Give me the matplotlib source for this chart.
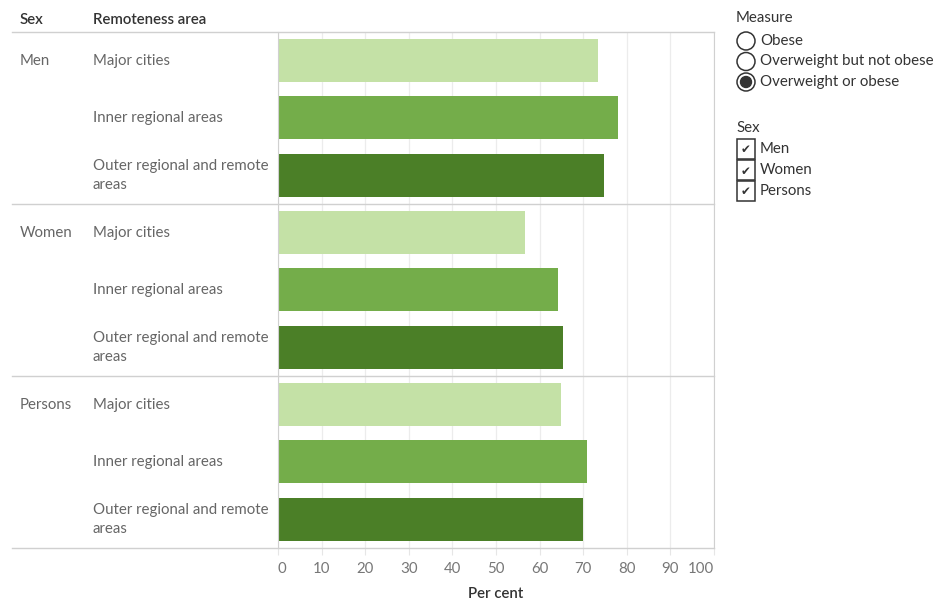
import numpy as np
from matplotlib import pyplot as plt
from matplotlib import patches

plt.rcParams['font.family'] = ['Lato', 'DejaVu Sans']

# Data (Overweight or obese, per cent)
sexes = ["Men", "Women", "Persons"]
areas = ["Major cities", "Inner regional areas", "Outer regional and remote\nareas"]
values = {
    "Men": [73.4, 77.9, 74.8],
    "Women": [56.7, 64.2, 65.3],
    "Persons": [65.0, 70.9, 70.0],
}
area_colours = ["#c4e1a6", "#74ad4a", "#4b7f27"]
xticks = [0, 10, 20, 30, 40, 50, 60, 70, 80, 90, 100]
measures = ["Obese", "Overweight but not obese", "Overweight or obese"]
selected_measure = "Overweight or obese"

W, H = 941, 602
fs = 10.8
fig = plt.figure(figsize=(W / 100, H / 100), dpi=100)

# Plot region in pixels
x0, x1, y0, y1 = 278, 714, 32, 548
ax = fig.add_axes([x0 / W, 1 - y1 / H, (x1 - x0) / W, (y1 - y0) / H])

# Bars
pos = 0
for s in sexes:
    for i, a in enumerate(areas):
        ax.barh(pos, values[s][i], height=0.75, color=area_colours[i], zorder=2)
        pos += 1
n_rows = pos
ax.set_ylim(n_rows - 0.5, -0.5)
ax.set_xlim(0, 100)
ax.set_yticks([])
ax.set_xticks(xticks)
ax.set_xticklabels([str(t) for t in xticks], fontsize=fs, color="#777777")
ax.tick_params(axis="x", length=5, color="#e6e6e6", pad=5)
labels = ax.get_xticklabels()
labels[0].set_ha("left")
labels[-1].set_ha("right")
for t in xticks:
    ax.axvline(t, color="#ececec", lw=0.9, zorder=0)
for side in ["top", "bottom", "left"]:
    ax.spines[side].set_visible(False)
ax.spines["right"].set_color("#d0d0d0")
ax.spines["left"].set_visible(True)
ax.spines["left"].set_color("#d0d0d0")
ax.set_xlabel("Per cent", fontsize=fs, color="#333333", labelpad=8, fontweight="semibold")

# Overlay in pixel coordinates for table text and legends
ov = fig.add_axes([0, 0, 1, 1], facecolor="none")
ov.set_xlim(0, W)
ov.set_ylim(H, 0)
ov.axis("off")

row_h = (y1 - y0) / n_rows
ov.text(20, 20, "Sex", fontsize=fs, color="#333333", va="center", fontweight="semibold")
ov.text(93, 20, "Remoteness area", fontsize=fs, color="#333333", va="center", fontweight="semibold")
for k in range(len(sexes) + 1):
    yy = y0 + k * 3 * row_h
    ov.plot([12, x1], [yy, yy], color="#d0d0d0", lw=1)

pos = 0
for s in sexes:
    yc = y0 + (pos + 0.5) * row_h
    ov.text(20, yc, s, fontsize=fs, color="#666666", va="center")
    for a in areas:
        yc = y0 + (pos + 0.5) * row_h
        ov.text(93, yc, a, fontsize=fs, color="#666666", va="center", linespacing=1.45)
        pos += 1

# Measure legend (radio buttons)
ov.text(736, 18, "Measure", fontsize=fs, color="#333333", va="center")
for j, m in enumerate(measures):
    cy = 41 + j * 20.5
    ov.add_patch(patches.Circle((746, cy), 9, fill=False, ec="#333333", lw=1.1))
    if m == selected_measure:
        ov.add_patch(patches.Circle((746, cy), 5.5, color="#333333"))
    ov.text(760, cy, m, fontsize=fs, color="#333333", va="center")

# Sex legend (checkboxes)
ov.text(736, 128, "Sex", fontsize=fs, color="#333333", va="center")
for j, s in enumerate(sexes):
    cy = 149 + j * 21
    ov.add_patch(patches.Rectangle((737, cy - 10), 18, 20, fill=False, ec="#333333", lw=1.1))
    ov.text(746, cy + 1, "\u2714", fontsize=8.5, color="#333333", ha="center", va="center",
            family="DejaVu Sans")
    ov.text(760, cy, s, fontsize=fs, color="#333333", va="center")

plt.savefig("out.png", dpi=100)
